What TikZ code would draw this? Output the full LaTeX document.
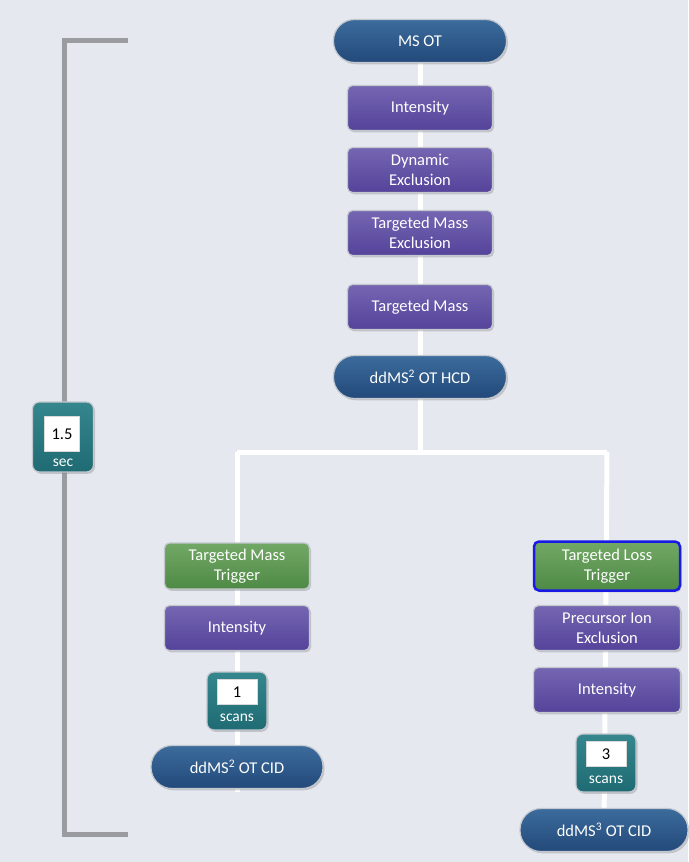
\documentclass[tikz,border=0pt]{standalone}
\usepackage{fontspec}
\setmainfont{Carlito}
\usetikzlibrary{shadows,backgrounds}
\definecolor{bg}{HTML}{E5E8EF}
\definecolor{bordergray}{HTML}{C3C7CE}
\definecolor{purpTop}{HTML}{7566B2}
\definecolor{purpBot}{HTML}{54439A}
\definecolor{blueTop}{HTML}{3C6C9C}
\definecolor{blueBot}{HTML}{22497A}
\definecolor{greenTop}{HTML}{72A865}
\definecolor{greenBot}{HTML}{4E8A45}
\definecolor{tealTop}{HTML}{35868D}
\definecolor{tealBot}{HTML}{1F6B73}
\definecolor{brgray}{HTML}{9A9C9F}
\definecolor{hilite}{HTML}{1A1AE6}
\tikzset{
  basebox/.style={rectangle, draw=bordergray, line width=1.2pt, text=white,
    font=\fontsize{16.5}{20}\selectfont, align=center, inner sep=0pt,
    drop shadow={opacity=0.35, shadow xshift=1.5pt, shadow yshift=-1.8pt}},
  purplebox/.style={basebox, rounded corners=5pt, minimum width=145pt, minimum height=45pt,
    top color=purpTop, bottom color=purpBot},
  greenbox/.style={basebox, rounded corners=5pt, minimum width=145pt, minimum height=46pt,
    top color=greenTop, bottom color=greenBot},
  pill/.style={basebox, rounded corners=21pt, minimum width=173pt, minimum height=43pt,
    top color=blueTop, bottom color=blueBot},
  tealbox/.style={basebox, rounded corners=7pt, minimum width=60pt, minimum height=58pt,
    top color=tealTop, bottom color=tealBot},
  numbox/.style={rectangle, fill=white, draw=white!85!black, line width=0.6pt, text=black,
    font=\fontsize{16.5}{18}\selectfont, inner sep=0pt},
  unitlabel/.style={text=white, font=\fontsize{15.5}{16}\selectfont, inner sep=0pt},
  conn/.style={draw=white, line width=5pt},
  bracket/.style={draw=brgray, line width=5pt}
}
\begin{document}
\begin{tikzpicture}[x=1pt,y=-1pt]
\useasboundingbox (0,0) rectangle (688,862);
% top chain
\node[pill] (msot) at (420,41) {MS OT};
\node[purplebox] (int1) at (420,108) {Intensity};
\node[purplebox] (dynex) at (420,170) {Dynamic\\Exclusion};
\node[purplebox] (tmex) at (420,233) {Targeted Mass\\Exclusion};
\node[purplebox] (tm) at (420,307) {Targeted Mass};
\node[pill] (hcd) at (420,377) {ddMS\textsuperscript{2} OT HCD};
% left branch
\node[greenbox] (tmt) at (237,566) {Targeted Mass\\Trigger};
\node[purplebox] (int2) at (237,628) {Intensity};
\node[tealbox] (sc1) at (237,701) {};
\node[numbox, minimum width=40pt, minimum height=25pt] (n1) at (237,692) {1};
\node[unitlabel] (u1) at (237,718) {scans};
\node[pill, minimum width=172pt] (cid2) at (237,767) {ddMS\textsuperscript{2} OT CID};
% right branch
\node[greenbox, draw=hilite, line width=2.5pt, minimum width=146pt, minimum height=49pt] (tlt) at (607,566) {Targeted Loss\\Trigger};
\node[purplebox, minimum width=147pt] (pie) at (607,628) {Precursor Ion\\Exclusion};
\node[purplebox, minimum width=147pt] (int3) at (607,690) {Intensity};
\node[tealbox] (sc3) at (606,763) {};
\node[numbox, minimum width=40pt, minimum height=25pt] (n3) at (606,754) {3};
\node[unitlabel] (u3) at (606,780) {scans};
\node[pill, minimum width=168pt] (cid3) at (604,830) {ddMS\textsuperscript{3} OT CID};
% cycle time
\node[tealbox, minimum width=61pt, minimum height=70pt] (sec) at (63,437) {};
\node[numbox, minimum width=35pt, minimum height=35pt] (nsec) at (62,434) {1.5};
\node[unitlabel] (usec) at (63,463) {sec};
\begin{scope}[on background layer]
  \fill[bg] (0,0) rectangle (688,862);
  \coordinate (split) at (420,452);
  \coordinate (jl) at (237,452);
  \coordinate (jr) at (607,452);
  \coordinate (endl) at (237,792);
  \coordinate (bt) at (128,40);
  \coordinate (btl) at (64,40);
  \coordinate (bbl) at (64,834);
  \coordinate (bb) at (128,834);
  \draw[conn] (msot.center) -- (hcd.center) -- (split);
  \draw[conn] (jl) -- (jr);
  \draw[conn] (jl) -- (endl);
  \draw[conn] (jr) -- (cid3.center);
  \draw[bracket] (bt) -- (btl) -- (bbl) -- (bb);
\end{scope}
\end{tikzpicture}
\end{document}
